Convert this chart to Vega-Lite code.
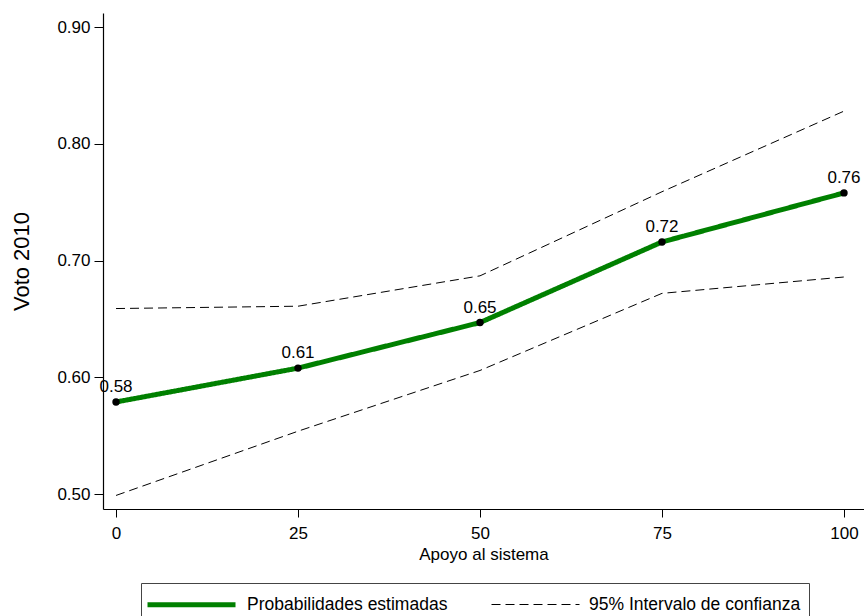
{
  "$schema": "https://vega.github.io/schema/vega-lite/v6.json",
  "width": 761,
  "height": 496,
  "autosize": {"type": "none"},
  "padding": {"left": 103, "top": 13, "right": 0, "bottom": 107},
  "background": "white",
  "config": {
    "view": {"stroke": null},
    "font": "Liberation Sans",
    "axis": {
      "grid": false,
      "domainColor": "black",
      "domainWidth": 1.2,
      "tickColor": "black",
      "tickWidth": 1,
      "labelColor": "black",
      "labelFont": "Liberation Sans",
      "labelFontSize": 17,
      "titleColor": "black",
      "titleFont": "Liberation Sans",
      "titleFontWeight": "normal"
    }
  },
  "data": {
    "values": [
      {"apoyo": 0, "voto": 0.579, "serie": "Probabilidades estimadas", "linea": "est"},
      {"apoyo": 25, "voto": 0.608, "serie": "Probabilidades estimadas", "linea": "est"},
      {"apoyo": 50, "voto": 0.647, "serie": "Probabilidades estimadas", "linea": "est"},
      {"apoyo": 75, "voto": 0.716, "serie": "Probabilidades estimadas", "linea": "est"},
      {"apoyo": 100, "voto": 0.758, "serie": "Probabilidades estimadas", "linea": "est"},
      {"apoyo": 0, "voto": 0.659, "serie": "95% Intervalo de confianza", "linea": "sup"},
      {"apoyo": 25, "voto": 0.661, "serie": "95% Intervalo de confianza", "linea": "sup"},
      {"apoyo": 50, "voto": 0.687, "serie": "95% Intervalo de confianza", "linea": "sup"},
      {"apoyo": 75, "voto": 0.759, "serie": "95% Intervalo de confianza", "linea": "sup"},
      {"apoyo": 100, "voto": 0.828, "serie": "95% Intervalo de confianza", "linea": "sup"},
      {"apoyo": 0, "voto": 0.499, "serie": "95% Intervalo de confianza", "linea": "inf"},
      {"apoyo": 25, "voto": 0.554, "serie": "95% Intervalo de confianza", "linea": "inf"},
      {"apoyo": 50, "voto": 0.606, "serie": "95% Intervalo de confianza", "linea": "inf"},
      {"apoyo": 75, "voto": 0.672, "serie": "95% Intervalo de confianza", "linea": "inf"},
      {"apoyo": 100, "voto": 0.686, "serie": "95% Intervalo de confianza", "linea": "inf"}
    ]
  },
  "encoding": {
    "x": {
      "field": "apoyo",
      "type": "quantitative",
      "scale": {"domain": [-1.79, 102.75], "nice": false, "zero": false},
      "axis": {
        "values": [0, 25, 50, 75, 100],
        "title": "Apoyo al sistema",
        "titleFontSize": 17,
        "titlePadding": 5,
        "tickSize": 8,
        "labelPadding": 8
      }
    },
    "y": {
      "field": "voto",
      "type": "quantitative",
      "scale": {"domain": [0.4874, 0.912], "nice": false, "zero": false},
      "axis": {
        "values": [0.5, 0.6, 0.7, 0.8, 0.9],
        "format": ".2f",
        "title": "Voto 2010",
        "titleFontSize": 22,
        "titlePadding": 23,
        "tickSize": 9,
        "labelPadding": 4
      }
    }
  },
  "layer": [
    {
      "mark": {"type": "line", "strokeCap": "butt"},
      "encoding": {
        "detail": {"field": "linea"},
        "color": {
          "field": "serie",
          "type": "nominal",
          "scale": {
            "domain": ["Probabilidades estimadas", "95% Intervalo de confianza"],
            "range": ["#008000", "black"]
          },
          "legend": {
            "title": null,
            "orient": "none",
            "legendX": 38,
            "legendY": 570,
            "direction": "horizontal",
            "symbolType": "M-4,0H4",
            "symbolSize": 484,
            "symbolOffset": 29,
            "labelFontSize": 17.5,
            "labelFont": "Liberation Sans",
            "labelColor": "black",
            "labelOffset": 42,
            "columnPadding": 41,
            "padding": 8,
            "strokeColor": "#444",
            "fillColor": "white",
            "labelLimit": 400
          }
        },
        "strokeDash": {
          "field": "serie",
          "type": "nominal",
          "scale": {
            "domain": ["Probabilidades estimadas", "95% Intervalo de confianza"],
            "range": [[1, 0], [9, 5]]
          }
        },
        "strokeWidth": {
          "field": "serie",
          "type": "nominal",
          "scale": {
            "domain": ["Probabilidades estimadas", "95% Intervalo de confianza"],
            "range": [5, 1]
          }
        }
      }
    },
    {
      "transform": [{"filter": "datum.linea === 'est'"}],
      "mark": {"type": "circle", "color": "black", "opacity": 1, "size": 55},
      "encoding": {}
    },
    {
      "transform": [{"filter": "datum.linea === 'est'"}],
      "mark": {
        "type": "text",
        "baseline": "alphabetic",
        "align": "center",
        "dy": -10,
        "fontSize": 17,
        "font": "Liberation Sans",
        "color": "black"
      },
      "encoding": {
        "text": {"field": "voto", "type": "quantitative", "format": ".2f"}
      }
    }
  ]
}
